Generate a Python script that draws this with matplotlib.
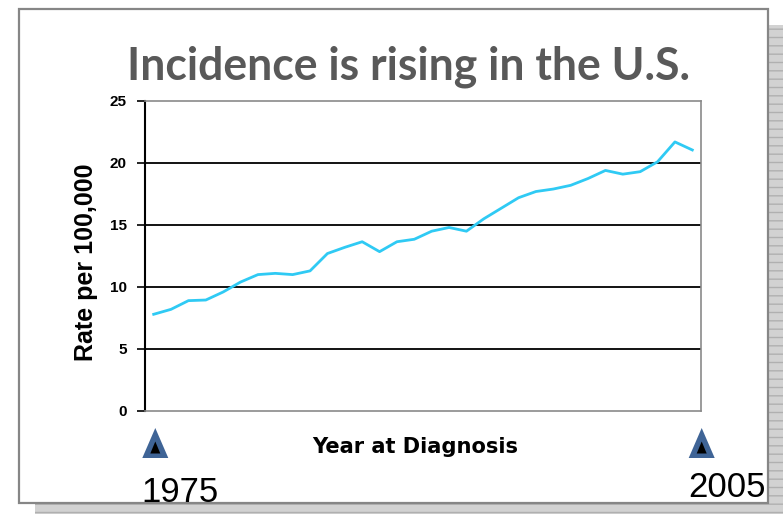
import numpy as np
import matplotlib
matplotlib.use("Agg")
import matplotlib.pyplot as plt
from matplotlib.patches import Rectangle, Polygon

# data (rate per 100,000 by year of diagnosis)
years = list(range(1975, 2007))
rates = [7.8, 8.2, 8.9, 8.95, 9.6, 10.4, 11.0, 11.1, 11.0, 11.3,
         12.7, 13.2, 13.65, 12.85, 13.65, 13.85, 14.5, 14.8, 14.5, 15.5,
         16.35, 17.2, 17.7, 17.9, 18.2, 18.75, 19.4, 19.1, 19.3, 20.1,
         21.7, 21.05]
y_ticks = [0, 5, 10, 15, 20, 25]
mark_years = ["1975", "2005"]

title = "Incidence is rising in the U.S."
x_label = "Year at Diagnosis"
y_label = "Rate per 100,000"

W, H = 783, 514
fig = plt.figure(figsize=(W / 100, H / 100), dpi=100)


def fx(px):
    return px / W


def fy(py):
    return 1 - py / H


# slide shadow + white frame
shadow_kw = dict(transform=fig.transFigure, facecolor="#d2d2d2",
                 edgecolor="#b0b0b0", hatch="--", lw=0, zorder=-3)
fig.add_artist(Rectangle((fx(768), fy(514)), fx(783) - fx(768), fy(25) - fy(514), **shadow_kw))
fig.add_artist(Rectangle((fx(35), fy(514)), fx(783) - fx(35), fy(504) - fy(514), **shadow_kw))
fig.add_artist(Rectangle((fx(19), fy(503)), fx(768) - fx(19), fy(9) - fy(503),
                         transform=fig.transFigure, facecolor="white",
                         edgecolor="#868686", lw=1.6, zorder=-2))

# plot area
ax = fig.add_axes([fx(145), fy(411), fx(701) - fx(145), fy(101) - fy(411)])
ax.set_facecolor("none")
ax.plot(years, rates, color="#2fcaf4", lw=2.0, solid_joinstyle="round", zorder=3)

ax.set_xlim(years[0] - 0.5, years[-1] + 0.5)
ax.set_ylim(0, 25)
ax.set_yticks(y_ticks)
ax.set_yticklabels([str(v) for v in y_ticks], family="Liberation Sans",
                   fontweight="bold", fontsize=11)
ax.set_xticks([])
ax.tick_params(axis="y", length=6, width=1.2, color="black", pad=7)
for v in y_ticks[1:-1]:
    ax.axhline(v, color="black", lw=1.3, zorder=1)

ax.spines["left"].set_color("black")
ax.spines["left"].set_linewidth(1.5)
for s in ["top", "right", "bottom"]:
    ax.spines[s].set_color("#8a8a8a")
    ax.spines[s].set_linewidth(1.2)

ax.set_ylabel(y_label, family="Liberation Sans", fontweight="bold",
              fontsize=18, va="center")
ax.yaxis.set_label_coords(-0.106, 0.48)

xl = ax.set_xlabel(x_label, family="DejaVu Sans", fontweight="bold",
                   fontsize=15, va="baseline")
ax.xaxis.set_label_coords(0.4856, -0.136)

t = fig.text(fx(408.5), fy(80), title, ha="center", va="baseline",
             family="Lato", fontweight="bold", fontsize=30, color="#595959")

# fit text widths to the reference
renderer = fig.canvas.get_renderer()
w = t.get_window_extent(renderer).width
t.set_fontsize(30 * 563 / w)
w = xl.get_window_extent(renderer).width
xl.set_fontsize(15 * 207 / w)


# year markers under the axis
def triangle(cx, base, w, h, color):
    pts = [(fx(cx - w / 2), fy(base)), (fx(cx + w / 2), fy(base)), (fx(cx), fy(base - h))]
    fig.add_artist(Polygon(pts, closed=True, transform=fig.transFigure,
                           facecolor=color, edgecolor="none"))


for cx in [155.3, 701.7]:
    triangle(cx, 458, 26, 30, "#3f6496")
    triangle(cx, 453.5, 10, 12, "black")

fig.text(fx(141), fy(502), mark_years[0], ha="left", va="baseline",
         family="Liberation Sans", fontsize=25, color="black")
fig.text(fx(688), fy(497), mark_years[1], ha="left", va="baseline",
         family="Liberation Sans", fontsize=25, color="black")

fig.savefig("out.png", dpi=100)
